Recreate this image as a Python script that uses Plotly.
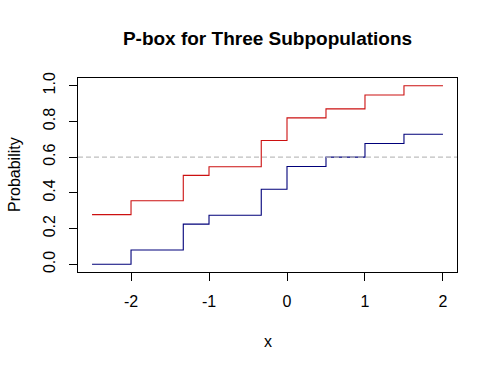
import plotly.graph_objects as go

# Step breakpoints (x) and probability levels of the p-box bounds
x_steps = [-2.5, -2.0, -1.33, -1.0, -0.33, 0.0, 0.5, 1.0, 1.5, 2.0]
upper_prob = [0.278, 0.356, 0.498, 0.546, 0.693, 0.82, 0.87, 0.948, 1.0, 1.0]
lower_prob = [0.0, 0.08, 0.225, 0.275, 0.42, 0.548, 0.6, 0.676, 0.728, 0.728]
ref_level = 0.6

x_ticks = [-2, -1, 0, 1, 2]
x_tick_text = ["-2", "-1", "0", "1", "2"]
y_ticks = [0.0, 0.2, 0.4, 0.6, 0.8, 1.0]
y_tick_text = ["0.0", "0.2", "0.4", "0.6", "0.8", "1.0"]

W, H = 497, 370
L, T = 78, 78
R = W - 457
B = H - 272
PW, PH = W - L - R, H - T - B
FONT = "Liberation Sans, Arial, sans-serif"

fig = go.Figure()
fig.add_trace(go.Scatter(x=x_steps, y=upper_prob, mode="lines", line_shape="hv",
                         line=dict(color="#cc1010", width=1.1), showlegend=False))
fig.add_trace(go.Scatter(x=x_steps, y=lower_prob, mode="lines", line_shape="hv",
                         line=dict(color="#00007a", width=1.1), showlegend=False))

fig.add_shape(type="line", xref="paper", yref="y", x0=0, x1=1, y0=ref_level, y1=ref_level,
              line=dict(color="#bebebe", width=1.1, dash="5px,3px"), layer="above")

fig.update_layout(
    width=W, height=H,
    margin=dict(l=L, r=R, t=T, b=B, pad=0),
    paper_bgcolor="white", plot_bgcolor="white",
    font=dict(family=FONT, size=16, color="black"),
    title=dict(text="<b>P-box for Three Subpopulations</b>", x=(L + PW / 2) / W,
               xanchor="center", y=1 - 38 / H, yanchor="middle", yref="container",
               font=dict(family=FONT, size=19, color="black")),
    xaxis=dict(range=[-2.68, 2.18], tickvals=x_ticks, ticktext=x_tick_text, ticks="outside",
               ticklen=8, tickwidth=1, tickcolor="black", showline=True, linecolor="black",
               linewidth=1, mirror=True, showgrid=False, zeroline=False,
               tickfont=dict(size=16), ticklabelstandoff=7),
    yaxis=dict(range=[-0.043, 1.043], tickvals=y_ticks, ticktext=y_tick_text, ticks="outside",
               ticklen=8, tickwidth=1, tickcolor="black", showline=True, linecolor="black",
               linewidth=1, mirror=True, showgrid=False, zeroline=False, tickangle=-90,
               tickfont=dict(size=16), ticklabelstandoff=8),
    annotations=[
        dict(text="x", xref="paper", yref="paper", x=0.5, y=(272 - 341) / PH,
             xanchor="center", yanchor="middle", showarrow=False, font=dict(size=16)),
        dict(text="Probability", xref="paper", yref="paper", x=(14 - L) / PW,
             y=0.5, xanchor="center", yanchor="middle", textangle=-90, showarrow=False,
             font=dict(size=16)),
    ],
)

# remove the default 8px page margin so the figure sits at the window's top-left corner
fig.write_html("out.html", config={"displayModeBar": False},
               post_script="document.body.style.margin='0';")
